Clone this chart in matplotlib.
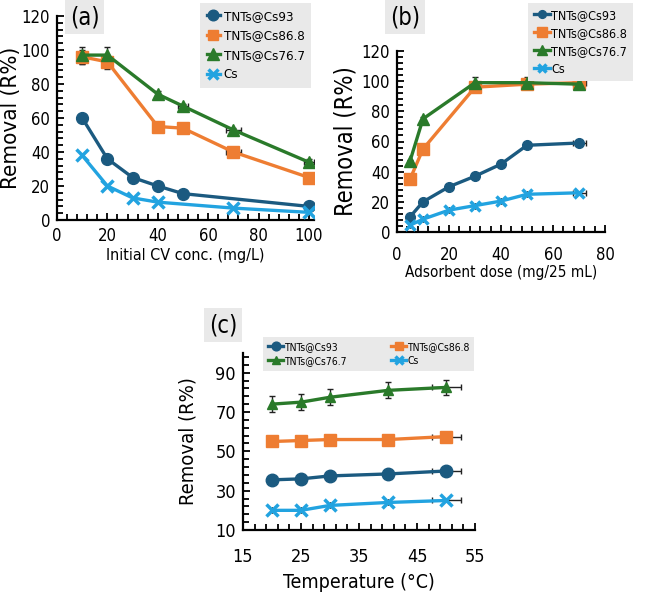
import matplotlib
matplotlib.use('Agg')
import matplotlib.pyplot as plt
from matplotlib.ticker import AutoMinorLocator, MultipleLocator

# ==== data ==== #
SERIES = ['TNTs@Cs93', 'TNTs@Cs86.8', 'TNTs@Cs76.7', 'Cs']
COLORS = ['#1b5a80', '#ee7d32', '#2a7a2a', '#22a3e0']
MARKERS = ['o', 's', '^', 'x']

# (a) initial CV concentration
aX93 = [10, 20, 30, 40, 50, 100]
aY93 = [60, 36, 25, 20, 15.5, 8]
aX868 = [10, 20, 40, 50, 70, 100]
aY868 = [96, 93, 55, 54, 40, 25]
aX767 = [10, 20, 40, 50, 70, 100]
aY767 = [97, 97, 74, 67, 53, 34]
aXCs = [10, 20, 30, 40, 70, 100]
aYCs = [38, 20, 13, 10.5, 7, 4.5]
aYerr868 = [4, 4, 1, 1, 1, 2]
aYerr767 = [5, 5, 2, 1, 1, 2]
aXerr868 = [0, 0, 0, 2, 3, 2]
aXerr767 = [0, 0, 0, 2, 3, 2]

# (b) adsorbent dose
bX = [5, 10, 20, 30, 40, 50, 70]
bY93 = [10, 20, 30, 37, 45, 57.5, 59]
bX86 = [5, 10, 30, 50, 70]
bY868 = [35, 55, 96, 98, 99]
bY767 = [47, 75, 99, 99, 98]
bYCs = [4.5, 8.5, 14.5, 17.5, 20.5, 25, 26]
bYerr767 = [1, 1, 4, 4, 2]
bXerr868 = [0, 0, 0, 0, 2.5]
bXerr93 = [0, 0, 0, 0, 0, 0, 2.5]

# (c) temperature
cX = [20, 25, 30, 40, 50]
cY93 = [35.5, 36, 37.5, 38.5, 40]
cY868 = [55, 55.5, 56, 56, 57.5]
cY767 = [74, 75, 77.5, 81, 82.5]
cYCs = [20, 20, 22.5, 24, 25]
cYerr767 = [4, 4, 4, 4, 4]
cYerr868 = [2.5, 2.5, 2.5, 2.5, 2.5]
cXerr = [0, 0, 0, 0, 2.5]

W, H = 646, 598
LEGEND_BG = '#e9e9e9'
plt.rcParams['font.stretch'] = 'condensed'


def px(left, top, right, bottom):
    return [left / W, 1 - bottom / H, (right - left) / W, (bottom - top) / H]


def styleAxes(ax, xMajor, yMajor, xOffset=0, tickSize=12, xPad=5):
    for side in ['top', 'right']:
        ax.spines[side].set_visible(False)
    for side in ['left', 'bottom']:
        ax.spines[side].set_linewidth(1.6)
    ax.xaxis.set_major_locator(MultipleLocator(xMajor, offset=xOffset))
    ax.yaxis.set_major_locator(MultipleLocator(yMajor))
    ax.xaxis.set_minor_locator(AutoMinorLocator(5))
    ax.yaxis.set_minor_locator(AutoMinorLocator(5))
    ax.tick_params(which='both', direction='in', width=1.3, labelsize=tickSize)
    ax.tick_params(which='major', length=5, pad=5)
    ax.tick_params(axis='x', which='major', pad=xPad)
    ax.tick_params(which='minor', length=4)


def drawSeries(ax, x, y, idx, ms, yerr=None, xerr=None):
    ax.errorbar(x, y, yerr=yerr, xerr=xerr, fmt='none', ecolor='#222222',
                elinewidth=1, capsize=2.5, zorder=2)
    mew = 2.5 if MARKERS[idx] == 'x' else 1
    line, = ax.plot(x, y, color=COLORS[idx], marker=MARKERS[idx], markersize=ms,
                    markeredgewidth=mew, linewidth=2.4, label=SERIES[idx], zorder=3)
    return line


def panelTag(fig, text, x, y):
    fig.text(x / W, 1 - y / H, text, fontsize=17, ha='left', va='top',
             bbox=dict(boxstyle='square,pad=0.2', fc=LEGEND_BG, ec='none'))


def yLabel(ax, size, rightPx, axLeft, axWidth):
    ax.set_ylabel('Removal (R%)', fontsize=size)
    ax.yaxis.set_label_coords((rightPx - axLeft) / axWidth, 0.5)


fig = plt.figure(figsize=(W / 100, H / 100), dpi=100)

# ---- (a) ---- #
axA = fig.add_axes(px(57, 16, 314, 220))
drawSeries(axA, aX93, aY93, 0, 8.5)
drawSeries(axA, aX868, aY868, 1, 8.5, yerr=aYerr868, xerr=aXerr868)
drawSeries(axA, aX767, aY767, 2, 9, yerr=aYerr767, xerr=aXerr767)
drawSeries(axA, aXCs, aYCs, 3, 8)
axA.set_xlim(0, 102)
axA.set_ylim(0, 120)
styleAxes(axA, 20, 20)
axA.set_xlabel('Initial CV conc. (mg/L)', fontsize=11.5, labelpad=2)
yLabel(axA, 16, 21, 57, 257)
axA.legend(loc='upper left', bbox_to_anchor=(200 / W, 1 - 3 / H),
           bbox_transform=fig.transFigure, fontsize=9.5, frameon=True,
           facecolor=LEGEND_BG, edgecolor='none', framealpha=1,
           handlelength=1.0, numpoints=1, borderpad=0.5, labelspacing=0.5,
           handletextpad=0.3, fancybox=False, markerscale=0.9,
           borderaxespad=0)
panelTag(fig, '(a)', 70, 5)

# ---- (b) ---- #
axB = fig.add_axes(px(397, 51, 605, 232))
drawSeries(axB, bX, bY93, 0, 7, xerr=bXerr93)
drawSeries(axB, bX86, bY868, 1, 8.5, xerr=bXerr868)
drawSeries(axB, bX86, bY767, 2, 8.5, yerr=bYerr767)
drawSeries(axB, bX, bYCs, 3, 7, xerr=bXerr93)
axB.set_xlim(0, 80)
axB.set_ylim(0, 120)
styleAxes(axB, 20, 20, xPad=10)
axB.set_xlabel('Adsorbent dose (mg/25 mL)', fontsize=11, labelpad=1)
yLabel(axB, 17, 358, 397, 208)
axB.legend(loc='upper left', bbox_to_anchor=(528 / W, 1 - 3 / H),
           bbox_transform=fig.transFigure, fontsize=9, frameon=True,
           facecolor=LEGEND_BG, edgecolor='none', framealpha=1,
           handlelength=1.3, numpoints=1, borderpad=0.45, labelspacing=0.4,
           handletextpad=0.1, fancybox=False, markerscale=0.8,
           borderaxespad=0)
panelTag(fig, '(b)', 390, 5)

# ---- (c) ---- #
axC = fig.add_axes(px(243, 353, 475, 530))
l93 = drawSeries(axC, cX, cY93, 0, 9, xerr=cXerr)
l868 = drawSeries(axC, cX, cY868, 1, 8.5, yerr=cYerr868, xerr=cXerr)
l767 = drawSeries(axC, cX, cY767, 2, 7.5, yerr=cYerr767, xerr=cXerr)
lCs = drawSeries(axC, cX, cYCs, 3, 8, xerr=cXerr)
axC.set_xlim(15, 55)
axC.set_ylim(10, 100)
styleAxes(axC, 10, 20, xOffset=5, tickSize=13, xPad=13)
axC.set_yticks([10, 30, 50, 70, 90])
axC.set_xlabel('Temperature (°C)', fontsize=14, labelpad=5)
yLabel(axC, 14.5, 198, 243, 232)
axC.legend([l93, l767, l868, lCs],
           [SERIES[0], SERIES[2], SERIES[1], SERIES[3]],
           loc='upper left', bbox_to_anchor=(263 / W, 1 - 337 / H),
           bbox_transform=fig.transFigure, fontsize=7.5, ncol=2,
           frameon=True, facecolor=LEGEND_BG, edgecolor='none',
           framealpha=1, handlelength=1.5, numpoints=1, borderpad=0.45,
           labelspacing=0.4, handletextpad=0.1, columnspacing=4.2,
           fancybox=False, markerscale=0.7, borderaxespad=0)
panelTag(fig, '(c)', 209, 313)

fig.savefig('out.png', dpi=100)
